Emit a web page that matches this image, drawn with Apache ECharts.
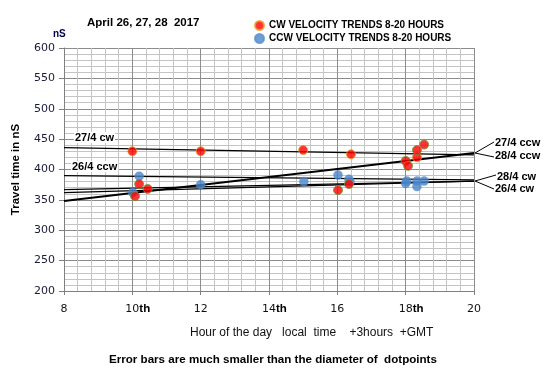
<!DOCTYPE html>
<html>
<head>
<meta charset="utf-8">
<script src="https://cdn.jsdelivr.net/npm/echarts@6/dist/echarts.min.js"></script>
<style>html,body{margin:0;padding:0;background:#fff}#c{width:550px;height:380px}</style>
</head>
<body>
<div id="c"></div>
<script>
// ---- data ----
const xTicks = [8, 10, 12, 14, 16, 18, 20];
const xTickLabels = ['8', '10th', '12', '14th', '16', '18th', '20'];
const yTicks = [200, 250, 300, 350, 400, 450, 500, 550, 600];

// CW points (27/4 day, orange rim)
const cw27Hours = [10.0, 12.0, 15.0, 16.4, 18.33];
const cw27Values = [430, 430, 432, 425, 420];
// CW points (other days, green rim)
const cwHours = [10.2, 10.45, 10.08, 16.02, 16.34, 18.0, 18.07, 18.33, 18.54];
const cwValues = [376, 368, 356, 366, 376, 414, 406, 432, 441];
// CCW points
const ccwHours = [10.2, 10.01, 12.0, 15.02, 16.02, 16.34, 16.37, 18.03, 18.0, 18.33, 18.33, 18.54];
const ccwValues = [389, 362, 375, 380, 391, 384, 380, 381, 377, 381, 372, 381];

// trend lines (value at 8h and 20h)
const trendHours = [8, 20];
const trend27cw = [436, 424];
const trend26ccw = [390, 383];
const trend28ccw = [348, 427];
const trend28cw = [367, 381];
const trend26cw = [362, 381];

const legendNames = ['CW VELOCITY TRENDS 8-20 HOURS', 'CCW VELOCITY TRENDS 8-20 HOURS'];

// ---- chart ----
const pair = (xs, ys) => xs.map((x, i) => [x, ys[i]]);
const chart = echarts.init(document.getElementById('c'), null, {renderer: 'canvas'});
const FONT = 'Liberation Sans';

function trend(vals, w) {
  return {
    type: 'line', data: pair(trendHours, vals), symbol: 'none', silent: true,
    lineStyle: {color: '#000', width: w}, z: 3, animation: false
  };
}

const option = {
  animation: false,
  backgroundColor: '#fff',
  grid: {left: 64, top: 48, right: 76, bottom: 89, containLabel: false},
  legend: {
    orient: 'vertical', left: 249, top: 15, itemGap: 2,
    itemWidth: 9, itemHeight: 9, icon: 'circle',
    data: legendNames,
    textStyle: {fontFamily: FONT, fontWeight: 'bold', fontSize: 10, color: '#000'}
  },
  xAxis: {
    type: 'value', min: 8, max: 20, interval: 2,
    axisLine: {show: true, lineStyle: {color: '#808080'}},
    axisTick: {show: true, length: 4, lineStyle: {color: '#808080'}},
    splitLine: {show: true, lineStyle: {color: '#8c8c8c', width: 1}},
    minorTick: {show: false, splitNumber: 5},
    minorSplitLine: {show: true, lineStyle: {color: '#c4c4c4', width: 1}},
    axisLabel: {
      margin: 10,
      formatter: function (v) {
        const i = xTicks.indexOf(v);
        const s = i >= 0 ? xTickLabels[i] : '';
        if (s.endsWith('th')) return '{p|th}{n|' + s.slice(0, -2) + '}{t|th}';
        return '{n|' + s + '}';
      },
      rich: {
        n: {fontFamily: 'DejaVu Sans', fontSize: 11, color: '#111', lineHeight: 14, verticalAlign: 'bottom'},
        t: {fontFamily: FONT, fontSize: 11.5, fontWeight: 'bold', color: '#000', lineHeight: 14, verticalAlign: 'bottom'},
        p: {fontFamily: FONT, fontSize: 11.5, fontWeight: 'bold', color: 'rgba(0,0,0,0)', lineHeight: 14, verticalAlign: 'bottom'}
      }
    }
  },
  yAxis: {
    type: 'value', min: 200, max: 600, interval: 50,
    axisLine: {show: true, lineStyle: {color: '#808080'}},
    axisTick: {show: true, length: 5, lineStyle: {color: '#808080'}},
    splitLine: {show: true, lineStyle: {color: '#8c8c8c', width: 1}},
    minorTick: {show: false, splitNumber: 5},
    minorSplitLine: {show: true, lineStyle: {color: '#c4c4c4', width: 1}},
    axisLabel: {fontFamily: 'DejaVu Sans', fontSize: 11, color: '#1a1a3a', margin: 9,
      formatter: v => yTicks.includes(v) ? String(v) : ''},
    name: 'Travel time in nS', nameLocation: 'middle', nameGap: 42,
    nameTextStyle: {fontFamily: FONT, fontWeight: 'bold', fontSize: 11.5, color: '#000'}
  },
  series: [
    trend(trend27cw, 1.3),
    trend(trend26ccw, 1.3),
    trend(trend28ccw, 2),
    trend(trend28cw, 1.3),
    trend(trend26cw, 1.3),
    {
      name: legendNames[0], type: 'scatter', data: pair(cw27Hours, cw27Values),
      symbolSize: 9, z: 5,
      itemStyle: {color: '#ff0000', borderColor: '#f0a020', borderWidth: 1}
    },
    {
      name: legendNames[0], type: 'scatter', data: pair(cwHours, cwValues),
      symbolSize: 9, z: 5,
      itemStyle: {color: '#ff0000', borderColor: '#6b9a3a', borderWidth: 1}
    },
    {
      name: legendNames[1], type: 'scatter', data: pair(ccwHours, ccwValues),
      symbolSize: 9, z: 4,
      itemStyle: {color: '#4a86c8', borderColor: '#5b8fcc', borderWidth: 0.5}
    }
  ],
  graphic: [
    {type: 'text', left: 87, top: 17, style: {text: 'April 26, 27, 28  2017', fontFamily: FONT, fontWeight: 'bold', fontSize: 11.5, fill: '#000'}},
    {type: 'text', left: 53, top: 29, style: {text: 'nS', fontFamily: FONT, fontWeight: 'bold', fontSize: 10, fill: '#000050'}},
    {type: 'text', left: 74, top: 132, z: 10, style: {text: '27/4 cw', fontFamily: FONT, fontWeight: 'bold', fontSize: 11, fill: '#000', backgroundColor: '#fff', padding: [0, 1, 0, 1]}},
    {type: 'text', left: 71, top: 161, z: 10, style: {text: '26/4 ccw', fontFamily: FONT, fontWeight: 'bold', fontSize: 11, fill: '#000', backgroundColor: '#fff', padding: [0, 1, 0, 1]}},
    {type: 'text', left: 495, top: 137, style: {text: '27/4 ccw', fontFamily: FONT, fontWeight: 'bold', fontSize: 11, fill: '#000'}},
    {type: 'text', left: 495, top: 150, style: {text: '28/4 ccw', fontFamily: FONT, fontWeight: 'bold', fontSize: 11, fill: '#000'}},
    {type: 'text', left: 497, top: 171, style: {text: '28/4 cw', fontFamily: FONT, fontWeight: 'bold', fontSize: 11, fill: '#000'}},
    {type: 'text', left: 495, top: 183, style: {text: '26/4 cw', fontFamily: FONT, fontWeight: 'bold', fontSize: 11, fill: '#000'}},
    {type: 'polyline', shape: {points: [[494, 142], [475, 153], [494, 157]]}, style: {stroke: '#000', lineWidth: 1, fill: null}},
    {type: 'polyline', shape: {points: [[496, 175], [475, 181], [494, 189]]}, style: {stroke: '#000', lineWidth: 1, fill: null}},
    {type: 'text', left: 190, top: 327, style: {text: 'Hour of the day   local  time    +3hours  +GMT', fontFamily: FONT, fontSize: 12, fill: '#111'}},
    {type: 'text', left: 109, top: 354, style: {text: 'Error bars are much smaller than the diameter of  dotpoints', fontFamily: FONT, fontWeight: 'bold', fontSize: 11.6, fill: '#000'}}
  ]
};
chart.setOption(option);
</script>
</body>
</html>
